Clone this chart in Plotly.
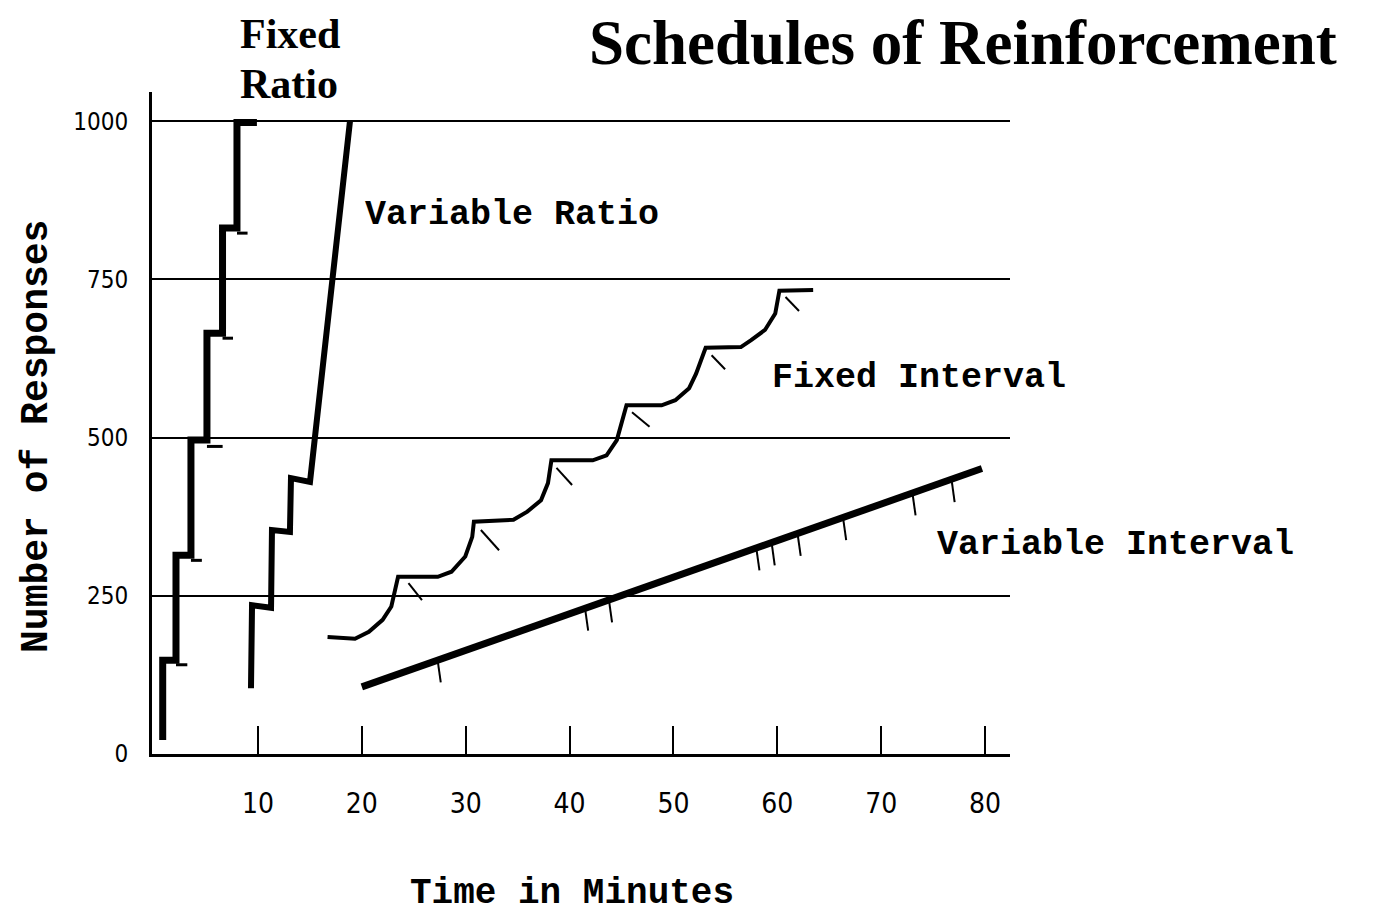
import plotly.graph_objects as go

# Tick labels
x_ticks = [10, 20, 30, 40, 50, 60, 70, 80]
y_ticks = [0, 250, 500, 750, 1000]

# Fixed Ratio: staircase (minutes, responses)
fr_x = [0.83, 0.83, 2.11, 2.11, 3.55, 3.55, 5.09, 5.09, 6.59, 6.59, 7.98, 7.98, 9.9]
fr_y = [22, 148, 148, 314, 314, 496, 496, 665, 665, 831, 831, 998, 998]
fr_pip_x0 = [2.11, 3.55, 5.09, 6.59, 7.98]
fr_pip_x1 = [3.2, 4.6, 6.6, 7.6, 9.0]
fr_pip_y = [141, 306, 486, 657, 823]

# Variable Ratio
vr_x = [9.33, 9.43, 11.26, 11.35, 13.08, 13.18, 15.01, 18.86]
vr_y = [104, 235, 231, 354, 351, 436, 430, 1000]

# Fixed Interval: scallops
fi_x = [16.70, 19.34, 20.68, 22.00, 22.84, 23.49, 27.31, 28.63, 29.96, 30.63, 30.79,
        34.60, 35.93, 37.25, 37.92, 38.25, 42.23, 43.56, 44.55, 45.21, 45.48,
        48.86, 50.18, 51.51, 52.18, 53.10, 56.49, 57.48, 58.81, 59.80, 60.20, 63.45]
fi_y = [185, 182, 193, 212, 233, 280, 280, 288, 312, 343, 367,
        370, 383, 401, 428, 464, 464, 472, 496, 533, 551,
        551, 559, 578, 601, 642, 643, 654, 670, 696, 732, 733]
fi_pip_x0 = [24.49, 31.46, 38.74, 46.01, 53.67, 60.79]
fi_pip_y0 = [270, 354, 452, 540, 630, 722]
fi_pip_x1 = [25.79, 33.21, 40.24, 47.70, 54.97, 62.09]
fi_pip_y1 = [243, 322, 425, 517, 608, 700]

# Variable Interval
vi_x = [20.0, 79.7]
vi_y = [106, 451]
vi_pip_x = [27.30, 41.49, 43.79, 57.98, 59.45, 61.95, 66.33, 73.01, 76.77]
vi_pip_top = [148, 230, 243, 325, 334, 348, 373, 412, 434]
vi_pip_bottom = [113, 195, 208, 290, 298, 313, 338, 377, 398]

SERIF = "Liberation Serif, Times New Roman, serif"
MONO = "Liberation Mono, Courier New, monospace"
NARROW = "DejaVu Sans Condensed, Liberation Sans Narrow, Liberation Sans, sans-serif"

fig = go.Figure()


def pips(x0, y0, x1, y1):
    xs, ys = [], []
    for a, b, c, d in zip(x0, y0, x1, y1):
        xs += [a, c, None]
        ys += [b, d, None]
    return xs, ys


line_style = dict(mode="lines", showlegend=False, hoverinfo="skip")

# main curves
fig.add_trace(go.Scatter(x=fr_x, y=fr_y, line=dict(color="black", width=7), **line_style))
fig.add_trace(go.Scatter(x=vr_x, y=vr_y, line=dict(color="black", width=6), **line_style))
fig.add_trace(go.Scatter(x=fi_x, y=fi_y, line=dict(color="black", width=4), **line_style))
fig.add_trace(go.Scatter(x=vi_x, y=vi_y, line=dict(color="black", width=7), **line_style))

# reinforcement marks
px, py = pips(fr_pip_x0, fr_pip_y, fr_pip_x1, fr_pip_y)
fig.add_trace(go.Scatter(x=px, y=py, line=dict(color="black", width=3), **line_style))
px, py = pips(fi_pip_x0, fi_pip_y0, fi_pip_x1, fi_pip_y1)
fig.add_trace(go.Scatter(x=px, y=py, line=dict(color="black", width=2), **line_style))
px, py = pips(vi_pip_x, vi_pip_top, [v + 0.3 for v in vi_pip_x], vi_pip_bottom)
fig.add_trace(go.Scatter(x=px, y=py, line=dict(color="black", width=2), **line_style))

labels = [
    ("Fixed", 0.1002, 1.088, SERIF, 42),
    ("Ratio", 0.1002, 1.012, SERIF, 42),
    ("Variable Ratio", 0.2459, 0.8142, MONO, 35),
    ("Fixed Interval", 0.7203, 0.568, MONO, 35),
    ("Variable Interval", 0.9126, 0.3157, MONO, 35),
]
for text, ax, ay, fam, size in labels:
    fig.add_annotation(
        text=text, x=ax, y=ay, xref="paper", yref="paper",
        xanchor="left", yanchor="middle", align="left", showarrow=False,
        font=dict(family=fam, size=size, color="black", weight="bold")
    )

# axis titles
fig.add_annotation(
    text="Number of Responses", x=-0.134, y=0.479, xref="paper", yref="paper",
    textangle=-90, showarrow=False, xanchor="center", yanchor="middle",
    font=dict(family=MONO, size=38, color="black", weight="bold")
)
fig.add_annotation(
    text="Time in Minutes", x=0.4895, y=-0.21, xref="paper", yref="paper",
    showarrow=False, xanchor="center", yanchor="middle",
    font=dict(family=MONO, size=36, color="black", weight="bold")
)

fig.update_layout(
    title=dict(
        text="Schedules of Reinforcement",
        x=0.699, xanchor="center", y=0.963, yanchor="middle",
        font=dict(family=SERIF, size=63, color="black", weight="bold")
    ),
    xaxis=dict(
        range=[-0.2, 82.4],
        tickvals=x_ticks,
        ticks="inside", ticklen=28, tickwidth=2, tickcolor="black",
        ticklabelstandoff=22,
        showline=True, linecolor="black", linewidth=3,
        showgrid=False, zeroline=False,
        tickfont=dict(family=NARROW, size=28, color="black")
    ),
    yaxis=dict(
        range=[0, 1046],
        tickvals=y_ticks,
        ticks="", ticklabelstandoff=16,
        showline=True, linecolor="black", linewidth=3,
        showgrid=True, gridcolor="black", gridwidth=2,
        zeroline=False,
        tickfont=dict(family=NARROW, size=24, color="black")
    ),
    showlegend=False,
    width=1366, height=907,
    margin=dict(l=144, r=364, t=84, b=161),
    plot_bgcolor="white",
    paper_bgcolor="white"
)

fig.write_html("out.html")
